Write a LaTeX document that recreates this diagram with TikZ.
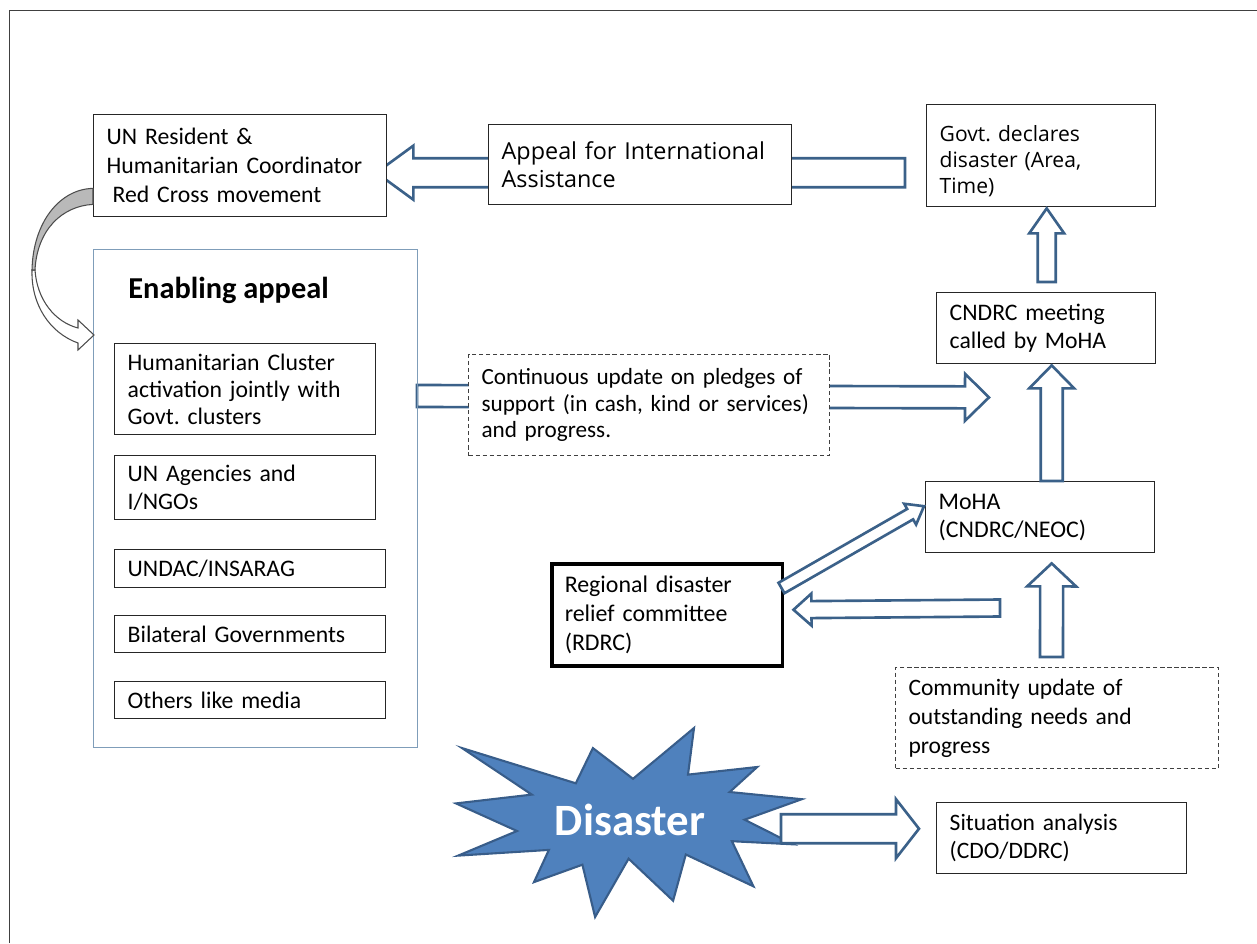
\documentclass[tikz,border=0pt]{standalone}
\usepackage{fontspec}
\setmainfont{Carlito}
\newfontfamily\segoe{Open Sans}
\frenchspacing
\usetikzlibrary{calc}
\tikzstyle{box} = [rectangle, draw=black!85, line width=0.8pt, fill=white, anchor=north west, align=left, inner xsep=0.26cm, inner ysep=0pt]
\tikzstyle{dashbox} = [box, draw=black!75, line width=0.6pt, dash pattern=on 2.4pt off 1.6pt]
\tikzstyle{fatline} = [draw=bblue, fill=white, line width=1.5pt, line join=miter]
\definecolor{bblue}{HTML}{3B6189}
\definecolor{starblue}{HTML}{4F81BD}
\definecolor{stardark}{HTML}{385D8A}
\definecolor{framegray}{HTML}{7F9DB9}
\pgfdeclarelayer{back}
\pgfsetlayers{back,main}
% block arrow: from, to, shaft half width, head half width, head length
\newcommand{\fatarrow}[5]{%
  \coordinate (fatbase) at ($(#2)!#5!(#1)$);
  \path[fatline] ($(#1)!#3!90:(#2)$) -- ($(fatbase)!#3!90:(#2)$) -- ($(fatbase)!#4!90:(#2)$) -- (#2)
    -- ($(fatbase)!#4!-90:(#2)$) -- ($(fatbase)!#3!-90:(#2)$) -- ($(#1)!#3!-90:(#2)$) -- cycle;}

\begin{document}
\begin{tikzpicture}[x=0.02cm, y=-0.02cm, font=\fontsize{13.5}{15.5}\selectfont]
\useasboundingbox (0,0) rectangle (1257,943);
\draw[black!75, line width=1pt] (9.5,943) -- (9.5,10.5) -- (1257,10.5);

%% top row
\node[box, text width=5.34cm, minimum height=2.04cm, font=\fontsize{13.5}{16.5}\selectfont] at (93,114) (un) {UN Resident \&\\Humanitarian Coordinator\\\hspace*{0.25em}Red Cross movement};
\node[box, text width=5.54cm, minimum height=1.60cm, font=\segoe\fontsize{13.3}{15.5}\selectfont] at (488,124) (appeal) {Appeal for International\\Assistance};
\node[box, text width=4.06cm, minimum height=2.04cm, font=\segoe\fontsize{12}{14.8}\selectfont] at (926,104) (govt) {\rule{0pt}{15pt}Govt. declares\\disaster (Area,\\Time)};
\node[box, text width=3.86cm, minimum height=1.42cm] at (936,292) (cndrc) {CNDRC meeting\\called by MoHA};

%% enabling appeal
\node[rectangle, draw=framegray, line width=0.6pt, anchor=north west, minimum width=6.48cm, minimum height=9.96cm, inner sep=0pt] at (93,249) (enabling) {};
\node[anchor=base west, inner sep=0pt, font=\bfseries\fontsize{17.3}{20}\selectfont] at (128,298) (enabletitle) {Enabling appeal};
\node[box, text width=4.70cm, minimum height=1.82cm] at (114,343) (cluster) {Humanitarian Cluster\\activation jointly with\\Govt. clusters};
\node[box, text width=4.70cm, minimum height=1.28cm] at (114,455) (agencies) {UN Agencies and\\I/NGOs};
\node[box, text width=4.90cm, minimum height=0.76cm] at (114,549) (undac) {UNDAC/INSARAG};
\node[box, text width=4.90cm, minimum height=0.74cm] at (114,615) (bilateral) {Bilateral Governments};
\node[box, text width=4.90cm, minimum height=0.74cm] at (114,681) (others) {Others like media};

%% curved arrow
\coordinate (curvetop) at ($(un.south west)+(0,-29)$);
\coordinate (curvebot) at ($(un.south west)+(0,-13)$);
\coordinate (curvetip) at ($(enabling.north west)+(1,86)$);
\path[draw=black!70, fill=white, line width=0.6pt] (32,270) .. controls (31,305) and (50,333) .. (78,343) -- (78,350) -- (curvetip) -- (78,320) -- (78,328) .. controls (55,322) and (37,300) .. (35,270) -- cycle;
\path[draw=black!70, fill=gray!55, line width=0.6pt] (curvetop) .. controls (60,189) and (33,222) .. (32,270) -- (35,270) .. controls (37,230) and (62,206) .. (curvebot) -- cycle;

%% middle
\node[dashbox, text width=6.70cm, minimum height=2.02cm, font=\fontsize{13.2}{15}\selectfont] at (468,354) (pledges) {Continuous update on pledges of\\support (in cash, kind or services)\\and progress.};
\node[box, text width=4.06cm, minimum height=1.42cm, font=\fontsize{13.6}{16}\selectfont] at (925,481) (moha) {MoHA\\(CNDRC/NEOC)};
\node[box, draw=black, line width=2pt, text width=4.10cm, minimum height=2.04cm, font=\fontsize{13.6}{16.5}\selectfont] at (550,562) (rdrc) {Regional disaster\\relief committee\\(RDRC)};
\node[dashbox, text width=5.94cm, minimum height=2.02cm, font=\fontsize{13.4}{16.5}\selectfont] at (895,667) (community) {Community update of\\outstanding needs and\\progress};
\node[box, text width=4.48cm, minimum height=1.42cm, font=\fontsize{13.4}{16}\selectfont] at (936,802) (situation) {Situation analysis\\(CDO/DDRC)};

%% disaster
\path[draw=stardark, fill=starblue, line width=1.2pt] (633.0,778.8) -- (694.0,728) -- (688.0,774.6) -- (757.2,767.0) -- (729.7,792.0) -- (801.8,799.2) -- (744.6,819.7) -- (793.3,844.3) -- (731.9,841.2) -- (753.4,886.3) -- (685.8,854.5) -- (673.1,900.7) -- (628.6,858.7) -- (595.1,917) -- (582.4,864.7) -- (534.0,882.1) -- (548.9,849.9) -- (458.2,855.6) -- (517.0,831.0) -- (456,803.4) -- (531.8,794.6) -- (462.1,748.1) -- (575.8,783.3) -- (592.9,748.1) -- cycle;
\node[text=white, font=\bfseries\fontsize{25.5}{30}\selectfont] at (630,820) (disaster) {Disaster};

%% block arrows
\coordinate (appealfrom) at ($(govt.west)+(-21,17)$);
\coordinate (appealto) at ($(un.east)+(-11,7)$);
\coordinate (pledgefrom) at ($(enabling.north east)+(-1,147)$);
\coordinate (pledgeto) at ($(cndrc.south west)+(53,33)$);
\begin{pgfonlayer}{back}
\fatarrow{appealfrom}{appealto}{0.29cm}{0.54cm}{0.74cm}
\fatarrow{pledgefrom}{pledgeto}{0.22cm}{0.47cm}{0.48cm}
\end{pgfonlayer}

\coordinate (cndrcup) at ($(cndrc.north)+(0.5,-10)$);
\coordinate (govtdown) at ($(govt.south)+(5.5,1)$);
\fatarrow{cndrcup}{govtdown}{0.18cm}{0.35cm}{0.50cm}

\coordinate (mohaup) at ($(moha.north)+(11.5,0)$);
\coordinate (cndrcdown) at ($(cndrc.south)+(5.5,1)$);
\fatarrow{mohaup}{cndrcdown}{0.22cm}{0.45cm}{0.46cm}

\coordinate (communityup) at ($(community.north)+(-5.5,-10)$);
\coordinate (mohadown) at ($(moha.south)+(11.5,10)$);
\fatarrow{communityup}{mohadown}{0.23cm}{0.49cm}{0.46cm}

\coordinate (rdrcfrom) at ($(community.north west)+(105,-59)$);
\coordinate (rdrcto) at ($(rdrc.east)+(9,-5)$);
\fatarrow{rdrcfrom}{rdrcto}{0.17cm}{0.32cm}{0.36cm}

\coordinate (rdrcout) at ($(rdrc.north east)+(-3,26)$);
\coordinate (mohain) at ($(moha.west)+(-1,-11)$);
\fatarrow{rdrcout}{mohain}{0.12cm}{0.24cm}{0.32cm}

\coordinate (disasterfrom) at ($(situation.west)+(-155,-9.5)$);
\coordinate (disasterto) at ($(situation.west)+(-17,-9.5)$);
\fatarrow{disasterfrom}{disasterto}{0.29cm}{0.59cm}{0.46cm}
\end{tikzpicture}
\end{document}
